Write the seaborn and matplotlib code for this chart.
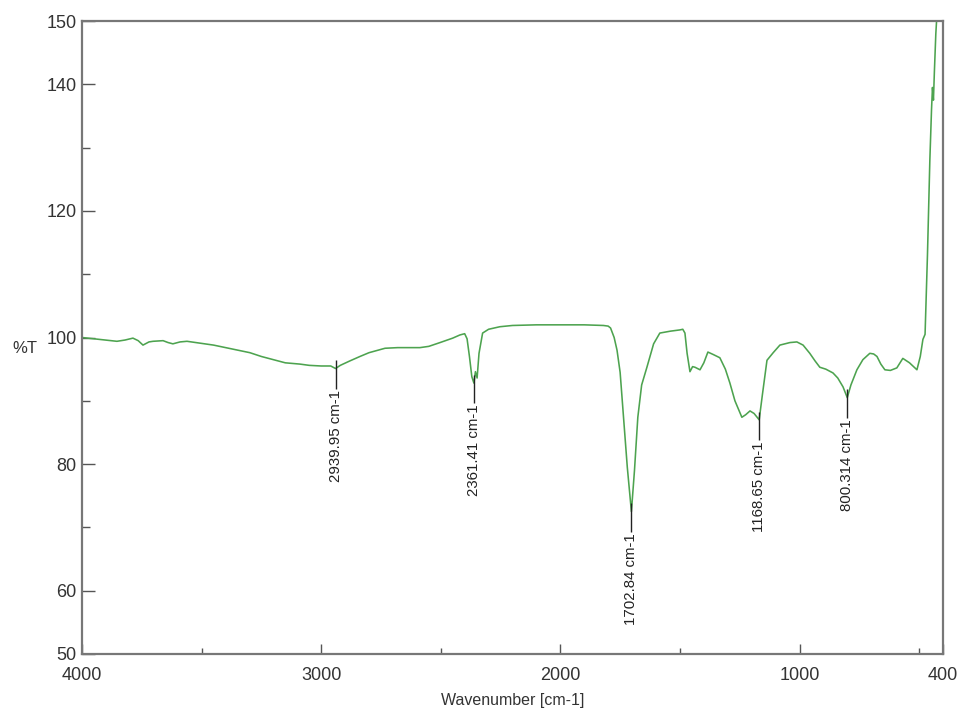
import matplotlib
matplotlib.use("Agg")
import matplotlib.pyplot as plt
import seaborn as sns
import pandas as pd
from matplotlib.ticker import FixedLocator

# FT-IR transmittance spectrum (wavenumber in cm-1, transmittance in %T)
wavenumber = [
    4000, 3950, 3900, 3854, 3820, 3787, 3765, 3745, 3720, 3703, 3661, 3640, 3620,
    3590, 3561, 3507, 3450, 3400, 3350, 3298, 3250, 3200, 3150, 3089, 3050, 3000,
    2960, 2939.95, 2920, 2880, 2838, 2800, 2733, 2680, 2587, 2550, 2503, 2450,
    2420, 2400, 2390, 2380, 2370, 2361.41, 2355, 2348, 2340, 2325, 2300, 2253,
    2200, 2100, 2000, 1900, 1820, 1800, 1790, 1775, 1763, 1750, 1738, 1720,
    1702.84, 1690, 1676, 1660, 1638, 1610, 1584, 1540, 1500, 1488, 1479, 1470,
    1458, 1447, 1437, 1416, 1400, 1383, 1360, 1333, 1310, 1291, 1270, 1241,
    1225, 1207, 1190, 1168.65, 1155, 1136, 1110, 1082, 1040, 1011, 985, 957,
    935, 915, 890, 860, 840, 818, 800.314, 785, 760, 735, 706, 690, 676, 660,
    643, 620, 593, 568, 540, 509, 495, 484, 475, 465, 455, 448, 444, 440, 436,
    430, 422, 415,
]
transmittance = [
    100.0, 99.8, 99.6, 99.4, 99.6, 99.9, 99.5, 98.8, 99.3, 99.4, 99.5, 99.2, 99.0,
    99.3, 99.4, 99.1, 98.8, 98.4, 98.0, 97.6, 97.0, 96.5, 96.0, 95.8, 95.6, 95.5,
    95.5, 95.1, 95.6, 96.3, 97.0, 97.6, 98.3, 98.4, 98.4, 98.6, 99.2, 99.9,
    100.4, 100.6, 99.8, 97.0, 93.8, 92.8, 94.6, 93.6, 97.5, 100.7, 101.3, 101.7,
    101.9, 102.0, 102.0, 102.0, 101.9, 101.8, 101.5, 100.0, 98.0, 94.5, 88.5, 79.5,
    72.5, 79.0, 87.4, 92.5, 95.3, 99.0, 100.7, 101.0, 101.2, 101.3, 100.7, 97.5,
    94.6, 95.4, 95.3, 94.9, 96.0, 97.7, 97.3, 96.8, 95.0, 92.8, 90.0, 87.4,
    87.8, 88.4, 88.0, 87.0, 91.0, 96.4, 97.6, 98.8, 99.2, 99.3, 98.8, 97.5,
    96.3, 95.3, 95.0, 94.4, 93.6, 92.2, 90.5, 92.5, 94.9, 96.5, 97.5, 97.4, 97.0,
    95.8, 94.9, 94.8, 95.2, 96.7, 96.0, 94.9, 97.0, 99.7, 100.5, 113.0, 128.0,
    136.0, 139.5, 137.5, 142.0, 148.0, 153.0, 160.0,
]

# Annotated absorption bands
peak_wavenumbers = [2939.95, 2361.41, 1702.84, 1168.65, 800.314]
peak_labels = ["2939.95 cm-1", "2361.41 cm-1", "1702.84 cm-1", "1168.65 cm-1", "800.314 cm-1"]

x_major_ticks = [4000, 3000, 2000, 1000, 400]
x_minor_ticks = [3500, 2500, 1500, 500]
y_major_ticks = [150, 140, 120, 100, 80, 60, 50]
y_minor_ticks = [130, 110, 90, 70]

spectrum = pd.DataFrame({"wavenumber": wavenumber, "transmittance": transmittance})

sns.set_style("white")
plt.rcParams["font.family"] = ["Liberation Sans", "DejaVu Sans"]

fig = plt.figure(figsize=(9.63, 7.14), dpi=100)
ax = fig.add_axes([82 / 963, 60 / 714, 861 / 963, 633 / 714])

sns.lineplot(data=spectrum, x="wavenumber", y="transmittance", ax=ax,
             color="#4da34f", linewidth=1.15, sort=False, estimator=None)

ax.set_xlim(4000, 400)
ax.set_ylim(50, 150)

# Peak markers: short vertical tick through the band minimum plus rotated label
lookup = dict(zip(wavenumber, transmittance))
for wn, text in zip(peak_wavenumbers, peak_labels):
    t = lookup[wn]
    ax.vlines(wn, t - 3.2, t + 1.3, color="#222222", linewidth=1.0, zorder=3)
    ax.text(wn, t - 3.4, text, rotation=90, ha="center", va="top",
            fontsize=10.8, color="#222222", fontstretch="condensed")

ax.xaxis.set_major_locator(FixedLocator(x_major_ticks))
ax.xaxis.set_minor_locator(FixedLocator(x_minor_ticks))
ax.yaxis.set_major_locator(FixedLocator(y_major_ticks))
ax.yaxis.set_minor_locator(FixedLocator(y_minor_ticks))
ax.set_xticklabels([str(v) for v in x_major_ticks])
ax.set_yticklabels([str(v) for v in y_major_ticks])

ax.tick_params(axis="x", which="major", direction="in", length=7, width=1.0,
               color="#555555", labelsize=13, labelcolor="#333333", pad=9,
               bottom=True, top=False)
ax.tick_params(axis="x", which="minor", direction="in", length=4, width=1.0,
               color="#555555", bottom=True, top=False)
ax.tick_params(axis="y", which="major", direction="in", length=9, width=1.0,
               color="#555555", labelsize=13, labelcolor="#333333", pad=4,
               left=True, right=False)
ax.tick_params(axis="y", which="minor", direction="in", length=6, width=1.0,
               color="#555555", left=True, right=False)

for side in ["left", "right", "top", "bottom"]:
    ax.spines[side].set_visible(True)
    ax.spines[side].set_color("#777777")
    ax.spines[side].set_linewidth(1.6)

ax.set_xlabel("Wavenumber [cm-1]", fontsize=11.5, color="#333333", labelpad=7)
ax.set_ylabel("")
fig.text(25 / 963, 1 - 348 / 714, "%T", ha="center", va="center",
         fontsize=12, color="#333333")

fig.savefig("out.png", dpi=100)
